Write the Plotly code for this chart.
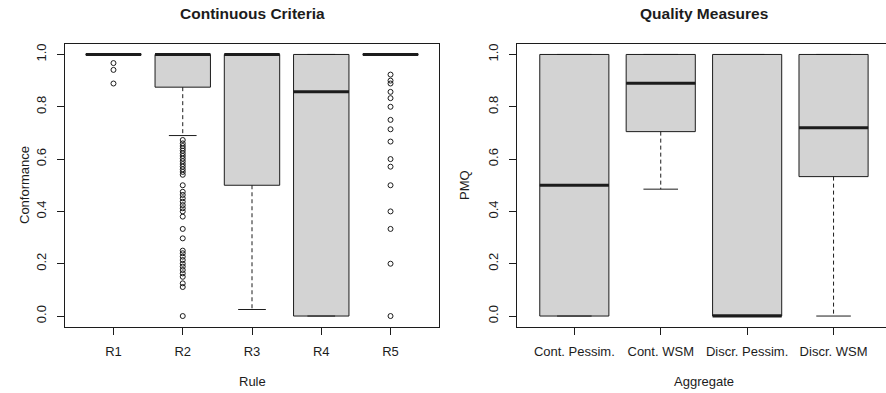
import plotly.graph_objects as go

W, H = 886, 393

# ---- Continuous Criteria: conformance per rule ----
rules = ["R1", "R2", "R3", "R4", "R5"]
rule_lower = [1.0, 0.69, 0.025, 0.0, 1.0]
rule_q1 = [1.0, 0.875, 0.5, 0.0, 1.0]
rule_median = [1.0, 1.0, 1.0, 0.857, 1.0]
rule_q3 = [1.0, 1.0, 1.0, 1.0, 1.0]
rule_upper = [1.0, 1.0, 1.0, 1.0, 1.0]

r1_outliers = [0.967, 0.941, 0.889]
r2_outliers = [0.673, 0.66, 0.65, 0.641, 0.632, 0.622, 0.612, 0.602, 0.592,
               0.581, 0.571, 0.561, 0.551, 0.54, 0.5, 0.475, 0.463, 0.45,
               0.437, 0.424, 0.412, 0.4, 0.38, 0.333, 0.297, 0.25, 0.24,
               0.227, 0.214, 0.2, 0.189, 0.176, 0.163, 0.15, 0.125, 0.111, 0.0]
r5_outliers = [0.923, 0.9, 0.889, 0.857, 0.833, 0.8, 0.75, 0.714, 0.667,
               0.6, 0.571, 0.5, 0.4, 0.333, 0.2, 0.0]

# ---- Quality Measures: PMQ per aggregate ----
aggregates = ["Cont. Pessim.", "Cont. WSM", "Discr. Pessim.", "Discr. WSM"]
agg_lower = [0.0, 0.485, 0.0, 0.0]
agg_q1 = [0.0, 0.705, 0.0, 0.533]
agg_median = [0.5, 0.89, 0.0, 0.72]
agg_q3 = [1.0, 1.0, 1.0, 1.0]
agg_upper = [1.0, 1.0, 1.0, 1.0]

INK = "#1c1c1c"
FILL = "#d3d3d3"
FONT = "Liberation Sans, Arial, sans-serif"
BOX_W = 0.8
CAP_W = 0.4


def px(x):
    return x / W


def py(y):
    return 1 - y / H


def add_panel(fig, xa, ya, q1, med, q3, lo, hi, out_x, out_y):
    pos = list(range(1, len(q1) + 1))
    # boxes (hinges only; whiskers are drawn separately as dashed lines)
    fig.add_trace(go.Box(
        x=pos, q1=q1, median=med, q3=q3, lowerfence=q1, upperfence=q3,
        width=BOX_W, whiskerwidth=0, fillcolor=FILL,
        line=dict(color=INK, width=1), boxpoints=False,
        xaxis=xa, yaxis=ya, showlegend=False, hoverinfo="skip"))
    # dashed whiskers
    wx, wy = [], []
    for p, a, b, c, d in zip(pos, q1, lo, q3, hi):
        wx += [p, p, None, p, p, None]
        wy += [a, b, None, c, d, None]
    fig.add_trace(go.Scatter(
        x=wx, y=wy, mode="lines", line=dict(color=INK, width=1, dash="4px,3px"),
        xaxis=xa, yaxis=ya, showlegend=False, hoverinfo="skip"))
    # staples
    sx, sy = [], []
    for p, b, d in zip(pos, lo, hi):
        sx += [p - CAP_W / 2, p + CAP_W / 2, None, p - CAP_W / 2, p + CAP_W / 2, None]
        sy += [b, b, None, d, d, None]
    fig.add_trace(go.Scatter(
        x=sx, y=sy, mode="lines", line=dict(color=INK, width=1),
        xaxis=xa, yaxis=ya, showlegend=False, hoverinfo="skip"))
    # thick median bars
    mx, my = [], []
    for p, m in zip(pos, med):
        mx += [p - BOX_W / 2, p + BOX_W / 2, None]
        my += [m, m, None]
    fig.add_trace(go.Scatter(
        x=mx, y=my, mode="lines", line=dict(color=INK, width=3),
        xaxis=xa, yaxis=ya, showlegend=False, hoverinfo="skip"))
    # outliers
    if out_x:
        fig.add_trace(go.Scatter(
            x=out_x, y=out_y, mode="markers",
            marker=dict(symbol="circle-open", size=5, color=INK,
                        line=dict(width=1, color=INK)),
            xaxis=xa, yaxis=ya, showlegend=False, hoverinfo="skip"))


fig = go.Figure()

ox, oy = [], []
for k, vals in ((1, r1_outliers), (2, r2_outliers), (5, r5_outliers)):
    ox += [k] * len(vals)
    oy += vals
add_panel(fig, "x", "y", rule_q1, rule_median, rule_q3, rule_lower, rule_upper, ox, oy)
add_panel(fig, "x2", "y2", agg_q1, agg_median, agg_q3, agg_lower, agg_upper, [], [])

tickfont = dict(family=FONT, size=13, color=INK)
ydom = [py(326.5), py(44)]
common_y = dict(range=[-0.04, 1.04], tickvals=[0, 0.2, 0.4, 0.6, 0.8, 1.0],
                ticktext=["0.0", "0.2", "0.4", "0.6", "0.8", "1.0"],
                tickangle=-90, ticks="outside", ticklen=7, tickwidth=1,
                tickcolor=INK, showline=True, linecolor=INK, linewidth=1,
                showgrid=False, zeroline=False, tickfont=tickfont,
                ticklabelstandoff=6, domain=ydom)
common_x = dict(ticks="outside", ticklen=7, tickwidth=1, tickcolor=INK,
                showline=True, mirror=True, linecolor=INK, linewidth=1,
                showgrid=False, zeroline=False, tickfont=tickfont,
                ticklabelstandoff=6)

fig.update_layout(
    width=W, height=H, margin=dict(l=0, r=0, t=0, b=0),
    paper_bgcolor="white", plot_bgcolor="white",
    xaxis=dict(common_x, domain=[px(65), px(439)], range=[0.3, 5.7],
               tickvals=[1, 2, 3, 4, 5], ticktext=rules, anchor="y"),
    yaxis=dict(common_y, mirror=True, anchor="x"),
    xaxis2=dict(common_x, domain=[px(517.3), 1.0], range=[0.34, 4.607],
                tickvals=[1, 2, 3, 4], ticktext=aggregates, anchor="y2"),
    yaxis2=dict(common_y, mirror=False, anchor="x2"),
)

texts = [
    ("<b>Continuous Criteria</b>", 252, 14, 15.5, 0),
    ("<b>Quality Measures</b>", 704, 14, 15.5, 0),
    ("Rule", 252, 381.5, 13, 0),
    ("Aggregate", 704, 381.5, 13, 0),
    ("Conformance", 25, 185, 13, -90),
    ("PMQ", 465, 185, 13, -90),
]
for t, x, y, s, ang in texts:
    fig.add_annotation(text=t, x=px(x), y=py(y), xref="paper", yref="paper",
                       xanchor="center", yanchor="middle", showarrow=False,
                       textangle=ang, font=dict(family=FONT, size=s, color=INK))

fig.write_html("out.html")
